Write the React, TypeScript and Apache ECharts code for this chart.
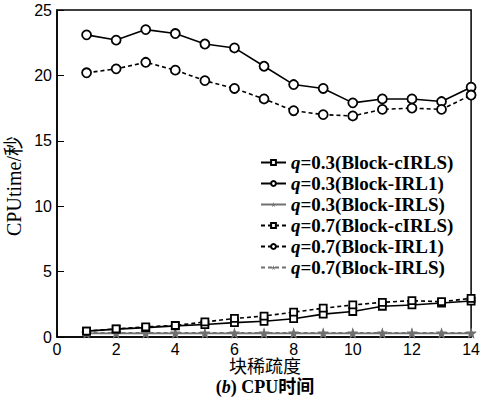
import React, { useEffect, useRef } from "react";
import * as echarts from "echarts";

const xValues = [1, 2, 3, 4, 5, 6, 7, 8, 9, 10, 11, 12, 13, 14];
const cirls03 = [0.45, 0.6, 0.72, 0.85, 0.95, 1.1, 1.2, 1.4, 1.75, 1.95, 2.35, 2.45, 2.6, 2.75];
const irl103 = [23.1, 22.7, 23.5, 23.2, 22.4, 22.1, 20.7, 19.3, 19.0, 17.9, 18.2, 18.2, 18.0, 19.1];
const irls03 = [0.28, 0.28, 0.28, 0.28, 0.28, 0.28, 0.28, 0.28, 0.28, 0.28, 0.28, 0.28, 0.28, 0.28];
const cirls07 = [0.45, 0.62, 0.78, 0.88, 1.15, 1.42, 1.6, 1.9, 2.2, 2.45, 2.65, 2.78, 2.7, 2.95];
const irl107 = [20.2, 20.5, 21.0, 20.4, 19.6, 19.0, 18.2, 17.3, 17.0, 16.9, 17.4, 17.5, 17.4, 18.5];
const irls07 = [0.32, 0.32, 0.32, 0.32, 0.32, 0.32, 0.32, 0.32, 0.32, 0.32, 0.32, 0.32, 0.32, 0.32];
const seriesNames = [
  "q=0.3(Block-cIRLS)",
  "q=0.3(Block-IRL1)",
  "q=0.3(Block-IRLS)",
  "q=0.7(Block-cIRLS)",
  "q=0.7(Block-IRL1)",
  "q=0.7(Block-IRLS)",
];
const xTicks = [0, 2, 4, 6, 8, 10, 12, 14];
const yTicks = [0, 5, 10, 15, 20, 25];

const SERIF = "'Liberation Serif', 'Times New Roman', serif";
const SANS = "'Liberation Sans', Arial, sans-serif";
const CJK = "'Liberation Serif', 'Noto Sans CJK SC', serif";
const STAR = "path://M50,0 L61,35 L98,35 L68,57 L79,91 L50,70 L21,91 L32,57 L2,35 L39,35 Z";

function pairs(ys: number[]) {
  return xValues.map((x, i) => [x, ys[i]]);
}

export default function App() {
  const ref = useRef<HTMLDivElement>(null);
  useEffect(() => {
    if (!ref.current) return;
    const chart = echarts.init(ref.current, null, { renderer: "svg" });
    const mk = (
      name: string,
      data: number[],
      symbol: string,
      size: number,
      color: string,
      dashed: boolean,
      filled: boolean,
      z: number
    ) => ({
      name,
      type: "line",
      data: pairs(data),
      symbol,
      symbolSize: size,
      showSymbol: true,
      z,
      lineStyle: { color, width: 1.6, type: dashed ? [4, 3] : "solid" },
      itemStyle: {
        color: filled ? color : "#fff",
        borderColor: color,
        borderWidth: filled ? 0 : 1.8,
      },
    });
    chart.setOption({
      animation: false,
      backgroundColor: "#fff",
      grid: {
        left: 57,
        right: 10,
        top: 10,
        bottom: 63,
        show: true,
        borderColor: "#000",
        borderWidth: 1.5,
        backgroundColor: "transparent",
      },
      xAxis: {
        type: "value",
        min: xTicks[0],
        max: xTicks[xTicks.length - 1],
        interval: 2,
        axisLine: { show: true, lineStyle: { color: "#000", width: 1.5 } },
        axisTick: { show: true, inside: true, length: 6, lineStyle: { color: "#000" } },
        axisLabel: { color: "#000", fontFamily: SANS, fontSize: 16, margin: 4 },
        splitLine: { show: false },
      },
      yAxis: {
        type: "value",
        min: yTicks[0],
        max: yTicks[yTicks.length - 1],
        interval: 5,
        axisLine: { show: true, lineStyle: { color: "#000", width: 1.5 } },
        axisTick: { show: true, inside: true, length: 7, lineStyle: { color: "#000" } },
        axisLabel: { color: "#000", fontFamily: SANS, fontSize: 16, margin: 5 },
        splitLine: { show: false },
      },
      legend: {
        orient: "vertical",
        left: 255,
        top: 148,
        itemWidth: 25,
        itemHeight: 6,
        itemGap: 2,
        align: "left",
        data: seriesNames,
        formatter: (name: string) => "{i|q}{n|" + name.slice(1) + "}",
        textStyle: {
          rich: {
            i: { fontFamily: SERIF, fontStyle: "italic", fontWeight: "bold", fontSize: 19, lineHeight: 19, color: "#000" },
            n: { fontFamily: SERIF, fontWeight: "bold", fontSize: 19, lineHeight: 19, color: "#000" },
          },
        },
      },
      graphic: [
        {
          type: "text",
          x: 14,
          y: 186,
          rotation: Math.PI / 2,
          style: {
            text: "CPUtime/秒",
            font: "20px " + CJK,
            fill: "#000",
            align: "center",
            verticalAlign: "middle",
          },
        },
        {
          type: "text",
          x: 265,
          y: 367,
          style: {
            text: "块稀疏度",
            font: "18px " + CJK,
            fill: "#000",
            align: "center",
            verticalAlign: "middle",
          },
        },
        {
          type: "text",
          x: 265,
          y: 387,
          style: {
            text: "{a|(}{b|b}{a|) CPU时间}",
            align: "center",
            verticalAlign: "middle",
            rich: {
              a: { font: "bold 18px " + CJK, fill: "#000" },
              b: { font: "italic bold 18px " + SERIF, fill: "#000" },
            },
          },
        },
      ],
      series: [
        mk(seriesNames[0], cirls03, "rect", 7, "#000", false, false, 5),
        mk(seriesNames[1], irl103, "circle", 9, "#000", false, false, 4),
        mk(seriesNames[2], irls03, STAR, 11, "#707070", false, true, 3),
        mk(seriesNames[3], cirls07, "rect", 7, "#000", true, false, 6),
        mk(seriesNames[4], irl107, "circle", 9, "#000", true, false, 4),
        mk(seriesNames[5], irls07, STAR, 11, "#707070", true, true, 3),
      ],
    });
    return () => chart.dispose();
  }, []);
  return (
    <div
      ref={ref}
      style={{ position: "fixed", left: 0, top: 0, width: 483, height: 400, background: "#fff" }}
    />
  );
}
